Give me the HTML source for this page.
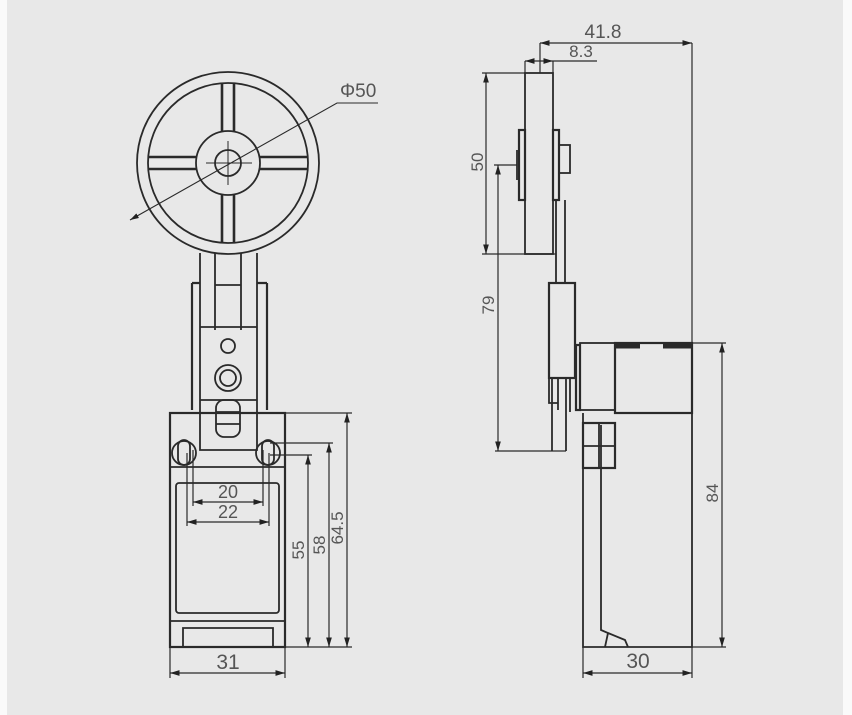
<!DOCTYPE html>
<html><head><style>
html,body{margin:0;padding:0;background:#e9e9e9;width:852px;height:715px;overflow:hidden}
svg{display:block}
text{font-family:"Liberation Sans",sans-serif;fill:#555}
</style></head><body>
<svg width="852" height="715" viewBox="0 0 852 715" xmlns="http://www.w3.org/2000/svg">
<rect x="0" y="0" width="852" height="715" fill="#e8e8e8"/>
<rect x="0" y="0" width="7" height="715" fill="#fafafa"/>
<rect x="843" y="0" width="9" height="715" fill="#fafafa"/>
<defs>
<marker id="a" viewBox="0 0 10 6" refX="10" refY="3" markerWidth="8" markerHeight="5" orient="auto-start-reverse"><path d="M0,0L10,3L0,6z" fill="#222"/></marker>
</defs>
<g fill="none" stroke="#2a2a2a" stroke-width="1.8">
<circle cx="228" cy="163" r="91"/>
<circle cx="228" cy="163" r="80"/>
<circle cx="228" cy="163" r="32"/>
<circle cx="228" cy="163" r="13"/>
<path d="M222,83V131M234,83V131M222,195V243M234,195V243M148,157H196M148,169H196M260,157H308M260,169H308" stroke-width="2.6"/>
<path d="M228,141V185M206,163H252" stroke-width="1"/>
<path d="M130,220L337,103H378" stroke-width="1.1" marker-start="url(#a)"/>
<path d="M200,253V413M257,253V413M215,253V330M241,253V330M215,285H241"/>
<path d="M192,283V410M200,283H192M267,283V410M257,283H267" stroke-width="2.2"/>
<path d="M200,327H257M200,400H257"/>
<circle cx="228" cy="346" r="7"/>
<circle cx="228" cy="378" r="13"/>
<circle cx="228" cy="378" r="8"/>
<rect x="216" y="400" width="24" height="37" rx="8"/>
<path d="M216,412H240M216,424H240"/>
<rect x="170" y="413" width="115" height="234" stroke-width="2.2"/>
<path d="M170,467H285"/>
<rect x="176" y="483" width="103" height="130" rx="3"/>
<path d="M170,621H285"/>
<path d="M183,647V628H273V647"/>
<path d="M200,413V450H257V413"/>
<circle cx="184" cy="453" r="12"/><circle cx="268" cy="453" r="12"/>
<rect x="178" y="440" width="12" height="25" rx="6"/><rect x="262" y="440" width="12" height="25" rx="6"/>
<g stroke-width="1.2">
<path d="M193,450V506M263,450V506M187,453V526M269,453V526"/>
<path d="M193,502H263" marker-start="url(#a)" marker-end="url(#a)"/>
<path d="M187,522H269" marker-start="url(#a)" marker-end="url(#a)"/>
<path d="M285,413H352M270,443H333M270,455H312M285,647H352"/>
<path d="M308,455V647" marker-start="url(#a)" marker-end="url(#a)"/>
<path d="M329,443V647" marker-start="url(#a)" marker-end="url(#a)"/>
<path d="M347,413V647" marker-start="url(#a)" marker-end="url(#a)"/>
<path d="M170,647V678M285,647V678"/>
<path d="M170,673H285" marker-start="url(#a)" marker-end="url(#a)"/>
</g>
<rect x="525" y="73" width="28" height="181"/>
<rect x="519" y="130" width="6" height="70" stroke-width="2.2"/>
<path d="M517,150V180"/>
<rect x="553" y="130" width="6" height="70" stroke-width="2.2"/>
<rect x="559" y="145" width="11" height="28"/>
<path d="M556,200V283M565,200V283"/>
<rect x="549" y="283" width="26" height="95" stroke-width="2.2"/>
<path d="M552,378V451M566,378V451M558,378V410M570,378V412M549,378V403H558"/>
<rect x="576" y="345" width="4" height="65" stroke-width="2.2"/>
<rect x="580" y="343" width="35" height="67"/>
<rect x="615" y="343" width="77" height="70" stroke-width="2.2"/>
<path d="M615,346H640M663,346H692" stroke-width="5"/>
<path d="M583,413V647H692V413"/>
<path d="M601,425V630L608,633L605,647M608,633L625,640L628,647"/>
<rect x="583" y="423" width="32" height="45" stroke-width="2.2"/>
<path d="M583,446H615M599,423V468"/>
<g stroke-width="1.2">
<path d="M540,43V73M692,43V343M525,61V73M553,61V73"/>
<path d="M540,43H692" marker-start="url(#a)" marker-end="url(#a)"/>
<path d="M525,61H553" marker-start="url(#a)" marker-end="url(#a)"/>
<path d="M553,61H597"/>
<path d="M482,73H525M482,254H556"/>
<path d="M486,73V254" marker-start="url(#a)" marker-end="url(#a)"/>
<path d="M494,165H517M495,451H566"/>
<path d="M498,165V451" marker-start="url(#a)" marker-end="url(#a)"/>
<path d="M692,343H726M692,647H726"/>
<path d="M722,343V647" marker-start="url(#a)" marker-end="url(#a)"/>
<path d="M583,647V678M692,647V678"/>
<path d="M583,673H692" marker-start="url(#a)" marker-end="url(#a)"/>
</g>
</g>
<g font-size="19">
<text x="340" y="97">Φ50</text>
<text x="228" y="498" text-anchor="middle" font-size="18">20</text>
<text x="228" y="518" text-anchor="middle" font-size="18">22</text>
<text x="228" y="669" text-anchor="middle" font-size="21">31</text>
<text transform="translate(304,550) rotate(-90)" text-anchor="middle" font-size="17">55</text>
<text transform="translate(325,545) rotate(-90)" text-anchor="middle" font-size="17">58</text>
<text transform="translate(343,528) rotate(-90)" text-anchor="middle" font-size="17">64.5</text>
<text x="603" y="38" text-anchor="middle">41.8</text>
<text x="581" y="57" text-anchor="middle" font-size="17">8.3</text>
<text transform="translate(483,162) rotate(-90)" text-anchor="middle" font-size="17">50</text>
<text transform="translate(494,305) rotate(-90)" text-anchor="middle" font-size="17">79</text>
<text transform="translate(718,493) rotate(-90)" text-anchor="middle" font-size="17">84</text>
<text x="638" y="668" text-anchor="middle" font-size="21">30</text>
</g>
</svg>
</body></html>
